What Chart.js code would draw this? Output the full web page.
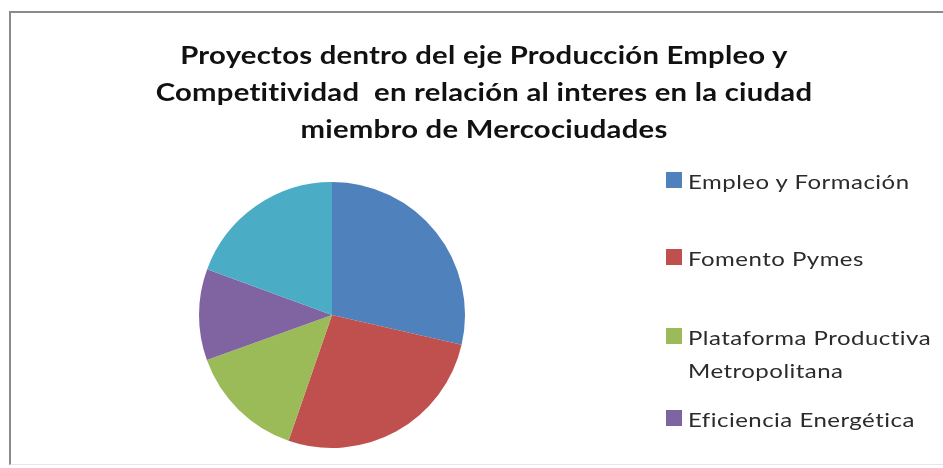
<!DOCTYPE html>
<html>
<head>
<meta charset="utf-8">
<script src="https://cdn.jsdelivr.net/npm/chart.js@4"></script>
<style>
  html, body { margin: 0; padding: 0; background: #fff; width: 943px; height: 468px; overflow: hidden; }
  #frame {
    position: absolute; left: 9px; top: 11px; width: 960px; height: 451px;
    border-left: 2px solid #8a8a8a; border-top: 2px solid #8a8a8a; border-bottom: 1px solid #e6e6e6;
    overflow: hidden;
  }
  #title {
    position: absolute; left: 0; top: 23px; width: 946px; text-align: center;
    font-family: Lato, "Open Sans", sans-serif; font-weight: bold; font-size: 24px;
    letter-spacing: 0.2px; line-height: 37px; color: #111;
    transform: scaleX(1.22); transform-origin: 473px 0;
  }
  #chartBox { position: absolute; left: 0; top: 0; width: 933px; height: 451px; }
  .legendItem {
    position: absolute; left: 655px; font-family: Lato, "Open Sans", sans-serif;
    font-size: 20px; line-height: 33px; color: #2b2b2b;
  }
  .legendItem span.box {
    position: absolute; left: 0; top: 7px; width: 16px; height: 16px;
  }
  .legendItem span.txt {
    display: block; margin-left: 22px; letter-spacing: 0.4px;
    transform: scaleX(1.2); transform-origin: 0 0; white-space: nowrap;
  }
</style>
</head>
<body>
<div id="frame">
  <div id="chartBox"><canvas id="pieChart"></canvas></div>
  <div id="title">Proyectos dentro del eje Producción Empleo y<br>Competitividad&nbsp; en relación al interes en la ciudad<br>miembro de Mercociudades</div>
  <div id="legend"></div>
</div>
<script>
const categories = ['Empleo y Formación', 'Fomento Pymes', 'Plataforma Productiva Metropolitana', 'Eficiencia Energética', 'Otros'];
const shares = [28.6, 26.7, 14.2, 11.1, 19.4];
const sliceColors = ['#4F81BD', '#C0504D', '#9BBB59', '#8064A2', '#4BACC6'];

const pieCanvas = document.getElementById('pieChart');

const chart = new Chart(pieCanvas, {
    type: 'pie',
    data: {
        labels: categories,
        datasets: [{
            data: shares,
            backgroundColor: sliceColors,
            borderWidth: 0
        }]
    },
    options: {
        responsive: true,
        maintainAspectRatio: false,
        animation: false,
        layout: { padding: { left: 188, right: 479, top: 169, bottom: 16 } },
        plugins: {
            legend: { display: false },
            tooltip: { enabled: false },
            title: { display: false }
        }
    }
});

// legend drawn as html so the long label can wrap like the original
const legendBox = document.getElementById('legend');
const legendTops = [152, 229, 308, 390, 470];
categories.forEach((name, i) => {
    const item = document.createElement('div');
    item.className = 'legendItem';
    item.style.top = legendTops[i] + 'px';
    const text = name === 'Plataforma Productiva Metropolitana' ? 'Plataforma Productiva<br>Metropolitana' : name;
    item.innerHTML = `<span class="box" style="background:${sliceColors[i]}"></span><span class="txt">${text}</span>`;
    legendBox.appendChild(item);
});
</script>
</body>
</html>
